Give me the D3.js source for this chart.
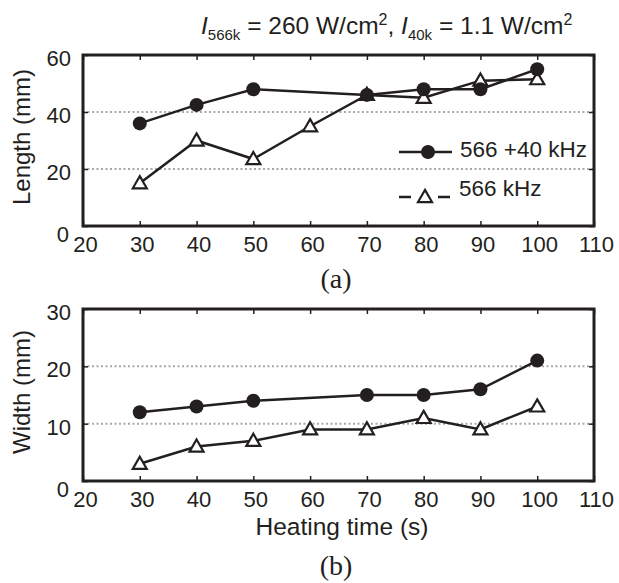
<!DOCTYPE html>
<html>
<head>
<meta charset="utf-8">
<script src="https://cdn.jsdelivr.net/npm/d3@7"></script>
<style>
  body { margin: 0; background: #fff; }
  svg { display: block; font-family: "Liberation Sans", Arial, sans-serif; }
</style>
</head>
<body>
<div id="chart"></div>
<script>
// heating times (s)
const timesCombined = [30, 40, 50, 70, 80, 90, 100];
const timesSingle = [30, 40, 50, 60, 70, 80, 90, 100];

// length (mm)
const lengthCombined = [36, 42.5, 48, 46, 48, 48, 55];
const lengthSingle = [15, 30, 23.5, 35, 46, 45, 51, 51.5];

// width (mm)
const widthCombined = [12, 13, 14, 15, 15, 16, 21];
const widthSingle = [3, 6, 7, 9, 9, 11, 9, 13];

const xTicks = [20, 30, 40, 50, 60, 70, 80, 90, 100, 110];
const lengthTicks = [0, 20, 40, 60];
const widthTicks = [0, 10, 20, 30];
const seriesNames = ['566 +40 kHz', '566 kHz'];

const W = 619, H = 583;
const ink = '#231f20';
const svg = d3.select('#chart').append('svg')
  .attr('width', W).attr('height', H);

const x = d3.scaleLinear().domain([20, 110]).range([83, 594]);

// title with italic I and subscripts
const title = svg.append('text')
  .attr('x', 201).attr('y', 34)
  .attr('font-size', 24.5).attr('fill', ink);
title.append('tspan').attr('font-style', 'italic').text('I');
title.append('tspan').attr('font-size', 15).attr('dy', 6).text('566k');
title.append('tspan').attr('dy', -6).text(' = 260 W/cm');
title.append('tspan').attr('font-size', 16).attr('dy', -9).text('2');
title.append('tspan').attr('dy', 9).text(', ');
title.append('tspan').attr('font-style', 'italic').text('I');
title.append('tspan').attr('font-size', 15).attr('dy', 6).text('40k');
title.append('tspan').attr('dy', -6).text(' = 1.1 W/cm');
title.append('tspan').attr('font-size', 16).attr('dy', -9).text('2');

const tri = d3.symbol().type(d3.symbolTriangle).size(85);

function panel(top, bottom, yMax, yTicks, label, labelY, combined, single, tag, tagY, showLegend, xLabel) {
  const y = d3.scaleLinear().domain([0, yMax]).range([bottom, top]);
  const g = svg.append('g');
  const [x0, x1] = x.range();

  // dotted grid at inner ticks
  g.selectAll('.grid')
    .data(yTicks.slice(1, -1))
    .enter().append('line')
    .attr('x1', x0).attr('x2', x1)
    .attr('y1', d => y(d)).attr('y2', d => y(d))
    .attr('stroke', '#a7a9ac').attr('stroke-width', 2)
    .attr('stroke-dasharray', '2,2.5');

  // axes with inward ticks on all four sides
  const tickLen = 5;
  const bottomAxis = g.append('g').attr('transform', `translate(0,${bottom})`)
    .call(d3.axisBottom(x).tickValues(xTicks).tickSize(-tickLen).tickPadding(10).tickSizeOuter(0));
  bottomAxis.selectAll('.tick text').attr('dx', 2);
  g.append('g').attr('transform', `translate(0,${top})`)
    .call(d3.axisTop(x).tickValues(xTicks).tickSize(-tickLen).tickFormat('').tickSizeOuter(0));
  const left = g.append('g').attr('transform', `translate(${x0},0)`)
    .call(d3.axisLeft(y).tickValues(yTicks).tickSize(-tickLen).tickPadding(12).tickSizeOuter(0));
  left.selectAll('.tick text').attr('dy', d => d === 0 ? '0.7em' : '0.48em')
    .attr('dx', d => d === 0 ? -2 : 0);
  g.append('g').attr('transform', `translate(${x1},0)`)
    .call(d3.axisRight(y).tickValues(yTicks).tickSize(-tickLen).tickFormat('').tickSizeOuter(0));
  g.selectAll('.domain').remove();
  g.selectAll('.tick line').attr('stroke', ink).attr('stroke-width', 1.5);
  g.selectAll('.tick text').attr('font-size', 22).attr('fill', ink)
    .attr('font-family', '"Liberation Sans", Arial, sans-serif');
  g.append('rect')
    .attr('x', x0).attr('y', top).attr('width', x1 - x0).attr('height', bottom - top)
    .attr('fill', 'none').attr('stroke', ink).attr('stroke-width', 3);

  const line = d3.line().x(d => x(d[0])).y(d => y(d[1]));
  const pts1 = timesCombined.map((t, i) => [t, combined[i]]);
  const pts2 = timesSingle.map((t, i) => [t, single[i]]);

  g.append('path').datum(pts1).attr('d', line)
    .attr('fill', 'none').attr('stroke', ink).attr('stroke-width', 2.5);
  g.append('path').datum(pts2).attr('d', line)
    .attr('fill', 'none').attr('stroke', ink).attr('stroke-width', 2.5);

  g.selectAll('.tri').data(pts2).enter().append('path')
    .attr('d', tri)
    .attr('transform', d => `translate(${x(d[0])},${y(d[1]) + 1})`)
    .attr('fill', '#fff').attr('stroke', ink).attr('stroke-width', 2.2);
  g.selectAll('.dot').data(pts1).enter().append('circle')
    .attr('cx', d => x(d[0])).attr('cy', d => y(d[1])).attr('r', 7)
    .attr('fill', ink);

  // y label
  svg.append('text')
    .attr('transform', `translate(30,${labelY}) rotate(-90)`)
    .attr('text-anchor', 'middle').attr('font-size', 24).attr('fill', ink)
    .text(label);

  if (xLabel) {
    svg.append('text').attr('x', 342).attr('y', bottom + 54)
      .attr('text-anchor', 'middle').attr('font-size', 24.5).attr('fill', ink)
      .text(xLabel);
  }

  svg.append('text').attr('x', 336).attr('y', tagY)
    .attr('text-anchor', 'middle').attr('font-size', 28).attr('fill', ink)
    .attr('font-family', '"Liberation Serif", "Times New Roman", serif')
    .text(tag);

  if (showLegend) {
    const lg = svg.append('g');
    const rows = [152, 197];
    // solid entry
    lg.append('line').attr('x1', 399).attr('x2', 452).attr('y1', rows[0]).attr('y2', rows[0])
      .attr('stroke', ink).attr('stroke-width', 2.5);
    lg.append('circle').attr('cx', 428).attr('cy', rows[0]).attr('r', 7).attr('fill', ink);
    // dashed entry: two short dashes around the triangle
    [[399, 411], [438, 450]].forEach(s => {
      lg.append('line').attr('x1', s[0]).attr('x2', s[1]).attr('y1', rows[1]).attr('y2', rows[1])
        .attr('stroke', ink).attr('stroke-width', 2.5);
    });
    lg.append('path').attr('d', tri).attr('transform', `translate(425,${rows[1] + 1})`)
      .attr('fill', '#fff').attr('stroke', ink).attr('stroke-width', 2.2);
    lg.append('text').attr('x', 460).attr('y', 157)
      .attr('font-size', 22.5).attr('fill', ink).text(seriesNames[0]);
    lg.append('text').attr('x', 459).attr('y', 196)
      .attr('font-size', 22.5).attr('fill', ink).text(seriesNames[1]);
  }
}

panel(55, 226, 60, lengthTicks, 'Length (mm)', 137, lengthCombined, lengthSingle, '(a)', 288, true, null);
panel(309, 481, 30, widthTicks, 'Width (mm)', 392, widthCombined, widthSingle, '(b)', 575, false, 'Heating time (s)');
</script>
</body>
</html>
